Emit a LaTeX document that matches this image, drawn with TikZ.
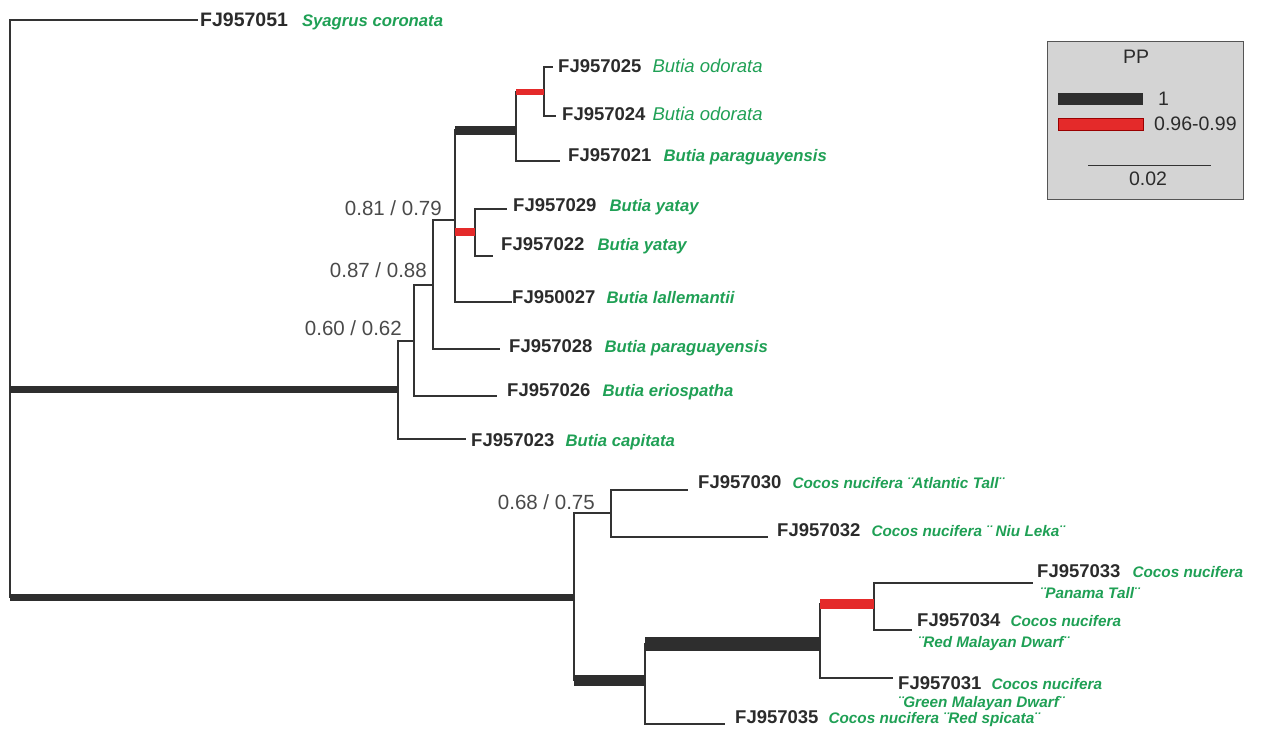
\documentclass[tikz,border=0pt]{standalone}
\usepackage{fontspec}
\setmainfont{Liberation Sans}
\definecolor{acc}{HTML}{2B2B2B}
\definecolor{spg}{HTML}{1FA055}
\definecolor{linec}{HTML}{333333}
\definecolor{barc}{HTML}{2E2E2E}
\definecolor{redc}{HTML}{E42A2A}
\definecolor{legfill}{HTML}{D4D4D4}
\definecolor{legline}{HTML}{555555}
\definecolor{supc}{HTML}{4A4A4A}
\newcommand{\accno}[1]{{\fontsize{18.5pt}{20pt}\selectfont\bfseries\color{acc}#1}}
\newcommand{\taxon}[1]{{\fontsize{16.7pt}{18pt}\selectfont\bfseries\itshape\color{spg}#1}}
\newcommand{\ctaxon}[1]{{\fontsize{15.3pt}{17pt}\selectfont\bfseries\itshape\color{spg}#1}}
\newcommand{\otaxon}[1]{{\fontsize{18.5pt}{20pt}\selectfont\itshape\color{spg}#1}}
\begin{document}
\begin{tikzpicture}[x=1pt,y=-1pt,
 br/.style={draw=linec,line width=1.3pt},
 bkbar/.style={draw=barc,line width=#1},
 rdbar/.style={draw=redc,line width=#1},
 lab/.style={anchor=west,inner sep=0pt,text height=13pt,text depth=0pt},
 sup/.style={anchor=east,inner sep=0pt,text height=14.5pt,text depth=0pt,text=supc,font=\fontsize{20.5pt}{22pt}\selectfont},
 legtxt/.style={inner sep=0pt,text=acc,text height=13.5pt,text depth=0pt,font=\fontsize{19.5pt}{21pt}\selectfont},
]
\useasboundingbox (0,0) rectangle (1274,731);
% internal nodes
\coordinate (root) at (10,309);
\coordinate (B) at (398,389);
\coordinate (n414) at (414,341);
\coordinate (n433) at (433,285);
\coordinate (n455) at (455,220);
\coordinate (n516) at (516,130);
\coordinate (n544) at (544,92);
\coordinate (n475) at (475,232);
\coordinate (C) at (574,597);
\coordinate (n611) at (611,513);
\coordinate (n645) at (645,680);
\coordinate (n820) at (820,644);
\coordinate (n874) at (874,604);
% leaf ends
\coordinate (t051) at (198,20);
\coordinate (t025) at (553,67);
\coordinate (t024) at (556,116);
\coordinate (t021) at (560,161);
\coordinate (t029) at (507,209);
\coordinate (t022) at (493,256);
\coordinate (t027) at (512,302);
\coordinate (t028) at (500,349);
\coordinate (t026) at (497,396);
\coordinate (t023) at (466,439);
\coordinate (t030) at (688,490);
\coordinate (t032) at (768,537);
\coordinate (t033) at (1033,583);
\coordinate (t034) at (912,630);
\coordinate (t031) at (893,678);
\coordinate (t035) at (725,724);
% thin branches
\draw[br] (root) |- (t051);
\draw[br] (root) |- (C);
\draw[br] (root) |- (B);
\draw[br] (B) |- (n414);
\draw[br] (B) |- (t023);
\draw[br] (n414) |- (n433);
\draw[br] (n414) |- (t026);
\draw[br] (n433) |- (n455);
\draw[br] (n433) |- (t028);
\draw[br] (n455) |- (n516);
\draw[br] (n455) |- (n475);
\draw[br] (n455) |- (t027);
\draw[br] (n516) |- (n544);
\draw[br] (n516) |- (t021);
\draw[br] (n544) |- (t025);
\draw[br] (n544) |- (t024);
\draw[br] (n475) |- (t029);
\draw[br] (n475) |- (t022);
\draw[br] (C) |- (n611);
\draw[br] (C) |- (n645);
\draw[br] (n611) |- (t030);
\draw[br] (n611) |- (t032);
\draw[br] (n645) |- (n820);
\draw[br] (n645) |- (t035);
\draw[br] (n820) |- (n874);
\draw[br] (n820) |- (t031);
\draw[br] (n874) |- (t033);
\draw[br] (n874) |- (t034);
% posterior probability bars
\draw[bkbar=7pt] (root |- B) -- (B);
\draw[bkbar=7pt] (root |- C) -- (C);
\draw[bkbar=9pt] (n455 |- n516) -- (n516);
\draw[rdbar=6pt] (n516 |- n544) -- (n544);
\draw[rdbar=8pt] (n455 |- n475) -- (n475);
\draw[bkbar=11pt] (C |- n645) -- (n645);
\draw[bkbar=14pt] (n645 |- n820) -- (n820);
\draw[rdbar=10pt] (n820 |- n874) -- (n874);
% support values
\node[sup] (s1) at (442,208) {0.81 / 0.79};
\node[sup] (s2) at (427,270) {0.87 / 0.88};
\node[sup] (s3) at (402,328.5) {0.60 / 0.62};
\node[sup] (s4) at (595,502) {0.68 / 0.75};
% leaf labels
\node[lab] (l051) at (200,19.5) {{\fontsize{19.5pt}{21pt}\selectfont\bfseries\color{acc}FJ957051}\hspace{14pt}\taxon{Syagrus coronata}};
\node[lab] (l025) at (558,66) {\accno{FJ957025}\hspace{11pt}\otaxon{Butia odorata}};
\node[lab] (l024) at (562,114) {\accno{FJ957024}\hspace{7pt}\otaxon{Butia odorata}};
\node[lab] (l021) at (568,155) {\accno{FJ957021}\hspace{12pt}\taxon{Butia paraguayensis}};
\node[lab] (l029) at (513,205) {\accno{FJ957029}\hspace{13pt}\taxon{Butia yatay}};
\node[lab] (l022) at (501,244) {\accno{FJ957022}\hspace{13pt}\taxon{Butia yatay}};
\node[lab] (l027) at (512,297) {\accno{FJ950027}\hspace{11pt}\taxon{Butia lallemantii}};
\node[lab] (l028) at (509,346) {\accno{FJ957028}\hspace{12pt}\taxon{Butia paraguayensis}};
\node[lab] (l026) at (507,390) {\accno{FJ957026}\hspace{12pt}\taxon{Butia eriospatha}};
\node[lab] (l023) at (471,440) {\accno{FJ957023}\hspace{11pt}\taxon{Butia capitata}};
\node[lab] (l030) at (698,482) {\accno{FJ957030}\hspace{11pt}\ctaxon{Cocos nucifera ¨Atlantic Tall¨}};
\node[lab] (l032) at (777,530) {\accno{FJ957032}\hspace{11pt}\ctaxon{Cocos nucifera ¨ Niu Leka¨}};
\node[lab] (l033) at (1037,571) {\accno{FJ957033}\hspace{12pt}\ctaxon{Cocos nucifera}};
\node[lab] (l033b) at (1040,592) {\ctaxon{¨Panama Tall¨}};
\node[lab] (l034) at (917,620) {\accno{FJ957034}\hspace{10pt}\ctaxon{Cocos nucifera}};
\node[lab] (l034b) at (918,641) {\ctaxon{¨Red Malayan Dwarf¨}};
\node[lab] (l031) at (898,683) {\accno{FJ957031}\hspace{10pt}\ctaxon{Cocos nucifera}};
\node[lab] (l031b) at (898,701) {\ctaxon{¨Green Malayan Dwarf¨}};
\node[lab] (l035) at (735,717) {\accno{FJ957035}\hspace{10pt}\ctaxon{Cocos nucifera ¨Red spicata¨}};
% legend
\node[draw=legline,fill=legfill,line width=1.2pt,minimum width=196pt,minimum height=158pt,anchor=north west,inner sep=0pt] (leg) at (1047,41) {};
\node[legtxt] (pp) at (1136,57) {PP};
\node[fill=barc,minimum width=85pt,minimum height=12pt,inner sep=0pt,anchor=north west] (kb) at (1058,93) {};
\node[legtxt,anchor=west] (k1) at (1158,99) {1};
\node[fill=redc,draw=red!60!black,line width=0.6pt,minimum width=85pt,minimum height=12pt,inner sep=0pt,anchor=north west] (kr) at (1058,118) {};
\node[legtxt,anchor=west] (k2) at (1154,124) {0.96-0.99};
\coordinate (sa) at (1088,165);
\coordinate (sb) at (1211,165);
\draw[linec,line width=1pt] (sa) -- (sb);
\node[legtxt] (sc) at (1148,179) {0.02};
\end{tikzpicture}
\end{document}
